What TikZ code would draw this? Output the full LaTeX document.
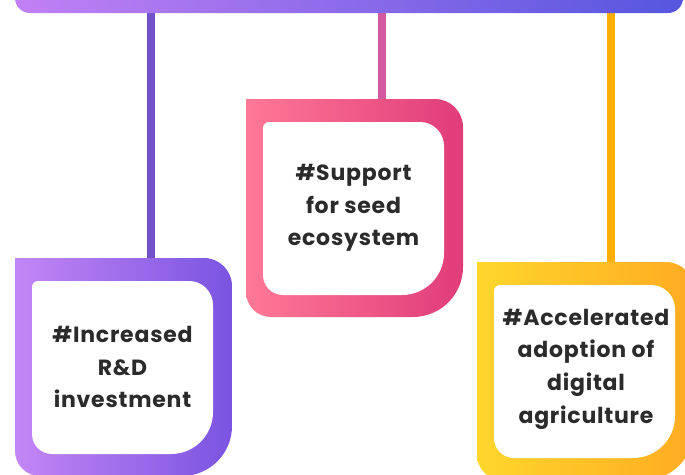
\documentclass[tikz,border=0pt]{standalone}
\usepackage{fontspec}
\setmainfont{Poppins}[LetterSpace=3.5]
\usepackage{tikz}
\usetikzlibrary{positioning}
\definecolor{bartl}{HTML}{C180F4}
\definecolor{bartr}{HTML}{5656DF}
\definecolor{purpleln}{HTML}{7152C6}
\definecolor{pinkln}{HTML}{D35AA0}
\definecolor{orangeln}{HTML}{FFAE00}
\definecolor{purplel}{HTML}{C386F5}
\definecolor{purpler}{HTML}{7A54E1}
\definecolor{pinkl}{HTML}{FF7896}
\definecolor{pinkr}{HTML}{E03C7A}
\definecolor{yellowl}{HTML}{FFD62C}
\definecolor{yellowr}{HTML}{FFAB22}
\definecolor{textdark}{HTML}{2B2B2B}
\tikzset {
  x=1pt, y=1pt,
  % hashtag text inside a box
  tag/.style = {align=center, text=textdark, font=\fontsize{22}{32.7}\selectfont\bfseries},
  % stem from the top bar down to a box
  stem/.style = {line width=8pt},
}
% gradient frame with uneven corners: x, y of top left, left colour, right colour
\newcommand{\tagframe}[4]{%
  \shade[left color=#3, right color=#4] (#1,#2) -- ++(189,0)
    arc[start angle=90, end angle=0, radius=28] -- ++(0,-140)
    arc[start angle=0, end angle=-90, radius=50] -- ++(-142,0)
    arc[start angle=-90, end angle=-180, radius=25] -- cycle;
  \fill[white] (#1+23,#2-23) -- ++(151,0)
    arc[start angle=90, end angle=0, radius=24] -- ++(0,-107)
    arc[start angle=0, end angle=-90, radius=42] -- ++(-119,0)
    arc[start angle=-90, end angle=-180, radius=20] -- ++(0,147)
    arc[start angle=180, end angle=90, radius=6] -- cycle;
}
\begin{document}
\begin{tikzpicture}
      \useasboundingbox (0,0) rectangle (685,-474);
      \clip (0,0) rectangle (685,-474);

      \coordinate (b1) at (151,-8);
      \coordinate (b2) at (382,-8);
      \coordinate (b3) at (611,-8);
      \coordinate (t1) at (151,-260);
      \coordinate (t2) at (382,-101);
      \coordinate (t3) at (611,-264);

      \draw [-, stem, purpleln] (b1) -- (t1);
      \draw [-, stem, pinkln] (b2) -- (t2);
      \draw [-, stem, orangeln] (b3) -- (t3);

      \shade[left color=bartl, right color=bartr, rounded corners=15]
        (15,20) rectangle (683,-13);

      \tagframe{15}{-258}{purplel}{purpler}
      \tagframe{246}{-99}{pinkl}{pinkr}
      \tagframe{477}{-262}{yellowl}{yellowr}

      \node[tag] (1) at (122.5,-367) {\#Increased\\R\&D\\investment};
      \node[tag] (2) at (353.5,-208) {\#Support\\for seed\\ecosystem};
      \node[tag] (3) at (586,-369) {\#Accelerated\\adoption of\\digital\\agriculture};
    \end{tikzpicture}
\end{document}
